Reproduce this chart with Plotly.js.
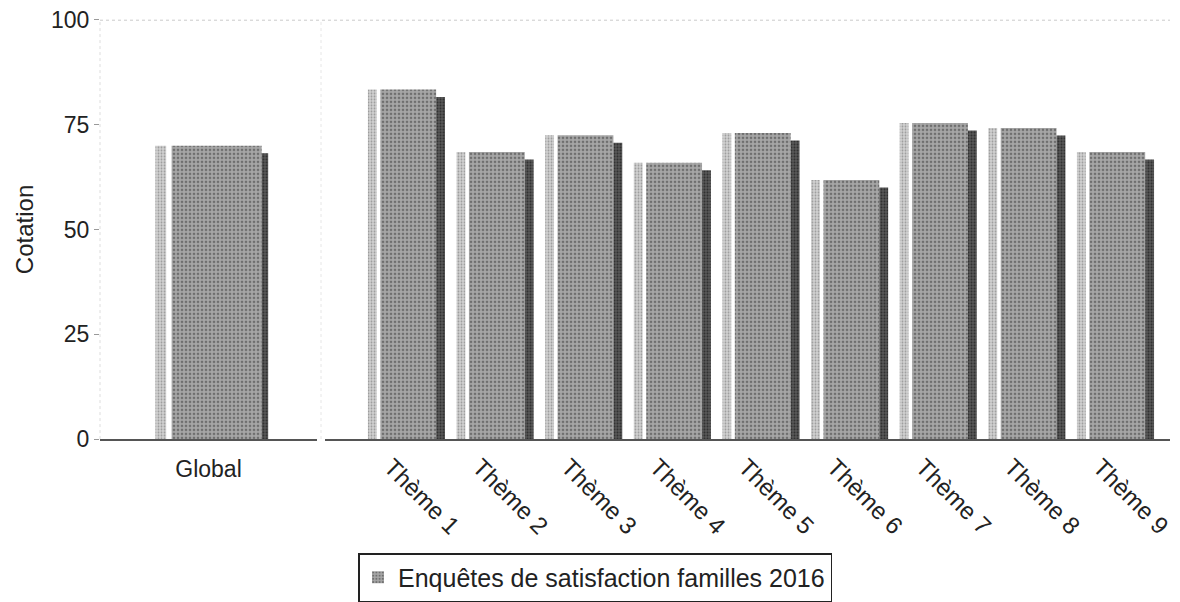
<!DOCTYPE html>
<html>
<head>
<meta charset="utf-8">
<script src="https://cdn.plot.ly/plotly-3.0.1.min.js"></script>
<style>html,body{margin:0;padding:0;background:#fff;}#chart{width:1180px;height:602px;}</style>
</head>
<body>
<div id="chart"></div>
<script>
// ---- data ----
const globalCategories = ['Global'];
const globalValues = [70];
const themeCategories = ['Thème 1','Thème 2','Thème 3','Thème 4','Thème 5','Thème 6','Thème 7','Thème 8','Thème 9'];
const themeValues = [83.4, 68.5, 72.5, 65.9, 73.0, 61.8, 75.4, 74.2, 68.5];
const seriesName = 'Enquêtes de satisfaction familles 2016';
const yTickValues = [0, 25, 50, 75, 100];
const yTickLabels = ['0', '25', '50', '75', '100'];

// ---- styles ----
const DEPTH = 1.8;          // visual drop of the dark side face
const LABEL_SHIFT = -0.17;  // rotated label position relative to category centre
const mainPattern = {shape: '.', bgcolor: '#a6a6a6', fgcolor: '#6f6f6f', size: 4, solidity: 0.35};
const darkPattern = {shape: '.', bgcolor: '#5a5a5a', fgcolor: '#2e2e2e', size: 3, solidity: 0.4};
const lightPattern = {shape: '.', bgcolor: '#d2d2d2', fgcolor: '#9a9a9a', size: 3, solidity: 0.3};

function group(cats, vals, xa, ya, geo, legend) {
  return [
    {type: 'bar', x: cats, y: vals, xaxis: xa, yaxis: ya, offset: geo.lo, width: geo.lw,
     marker: {color: '#d2d2d2', pattern: lightPattern, line: {width: 0}}, showlegend: false, hoverinfo: 'skip'},
    {type: 'bar', x: cats, y: vals, xaxis: xa, yaxis: ya, offset: geo.mo, width: geo.mw,
     marker: {color: '#a6a6a6', pattern: mainPattern, line: {width: 0}}, name: seriesName, showlegend: legend, legendgroup: 's'},
    {type: 'bar', x: cats, y: vals, base: -DEPTH, xaxis: xa, yaxis: ya, offset: geo.do, width: geo.dw,
     marker: {color: '#5a5a5a', pattern: darkPattern, line: {width: 0}}, showlegend: false, hoverinfo: 'skip'}
  ];
}

const traces = [].concat(
  group(globalCategories, globalValues, 'x', 'y', {lo: -0.49, lw: 0.10, mo: -0.34, mw: 0.83, do: 0.49, dw: 0.06}, true),
  group(themeCategories, themeValues, 'x2', 'y2', {lo: -0.43, lw: 0.10, mo: -0.29, mw: 0.63, do: 0.34, dw: 0.10}, false)
);

const fam = '"Liberation Sans", Arial, sans-serif';
const font = {family: fam, color: '#222'};
const yDom = [1 - 442/602, 1 - 20/602];

const layout = {
  width: 1180, height: 602,
  margin: {l: 0, r: 0, t: 0, b: 0},
  paper_bgcolor: '#fff', plot_bgcolor: 'rgba(0,0,0,0)',
  barmode: 'overlay',
  font: font,
  xaxis: {domain: [100/1180, 317/1180], type: 'category', range: [-1, 1], showgrid: false, zeroline: false,
          showline: true, linecolor: '#555', linewidth: 1.5, ticks: '', ticklabelstandoff: 9,
          tickfont: {size: 23, family: fam, color: '#222'}, automargin: false, fixedrange: true},
  xaxis2: {domain: [325/1180, 1170/1180], type: 'category', range: [-0.914, 8.62], anchor: 'y2', showgrid: false, zeroline: false,
           showline: true, linecolor: '#555', linewidth: 1.5, ticks: '', tickangle: 45, ticklabelstandoff: 3,
           tickmode: 'array', tickvals: themeCategories.map((c, i) => i + LABEL_SHIFT), ticktext: themeCategories,
           tickfont: {size: 24, family: fam, color: '#222'}, automargin: false, fixedrange: true},
  yaxis: {domain: yDom, range: [0, 100], tickvals: yTickValues, ticktext: yTickLabels, showgrid: false, zeroline: false,
          showline: false, ticks: 'outside', ticklen: 5, tickcolor: '#999', tickfont: {size: 23, family: fam, color: '#222'},
          title: {text: 'Cotation', font: {size: 24, family: fam, color: '#222'}, standoff: 10}, automargin: false, fixedrange: true},
  yaxis2: {domain: yDom, range: [0, 100], anchor: 'x2', matches: 'y', showticklabels: false, showgrid: false, zeroline: false,
           showline: false, ticks: '', automargin: false, fixedrange: true},
  shapes: [
    {type: 'line', xref: 'paper', yref: 'y', x0: 100/1180, x1: 1170/1180, y0: 100, y1: 100, line: {color: '#999', width: 1, dash: 'dot'}},
    {type: 'line', xref: 'paper', yref: 'paper', x0: 100/1180, x1: 100/1180, y0: yDom[0], y1: yDom[1], line: {color: '#ddd', width: 1, dash: 'dot'}},
    {type: 'line', xref: 'paper', yref: 'paper', x0: 321/1180, x1: 321/1180, y0: yDom[0], y1: yDom[1], line: {color: '#e6e6e6', width: 1, dash: 'dot'}}
  ],
  legend: {orientation: 'h', x: 595/1180, xanchor: 'center', yref: 'paper', y: 1 - 557/602, yanchor: 'top',
           bordercolor: '#222', borderwidth: 1.5, bgcolor: '#fff', font: {size: 25, family: fam, color: '#222'},
           itemwidth: 30}
};

Plotly.newPlot('chart', traces, layout, {displayModeBar: false, staticPlot: true});
</script>
</body>
</html>
